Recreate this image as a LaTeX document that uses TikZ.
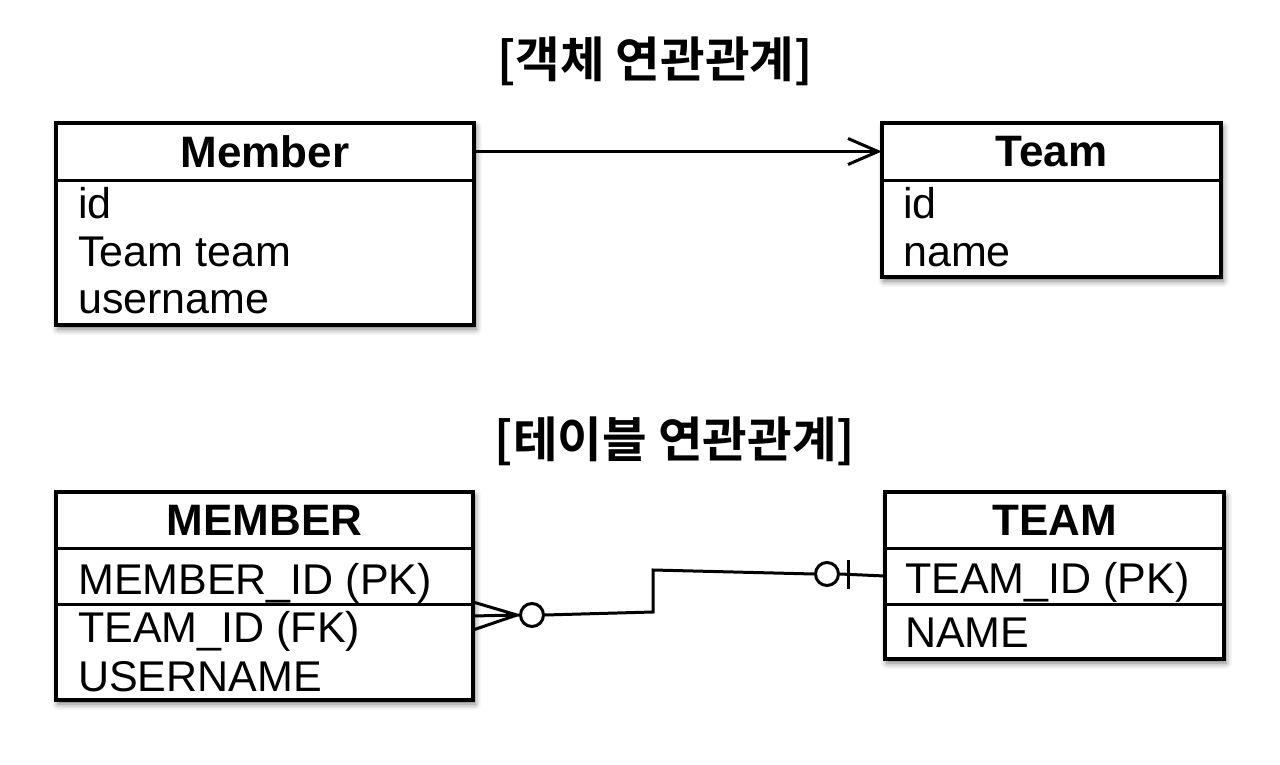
\documentclass[tikz,border=0pt]{standalone}
\usepackage{fontspec}
\setmainfont{Liberation Sans}
\newfontfamily\kr{Noto Sans CJK KR}[BoldFont={Noto Sans CJK KR Bold}]
\usetikzlibrary{arrows.meta,shadows.blur}
\begin{document}
\begin{tikzpicture}[x=1pt,y=-1pt,
  tbl/.style={draw, line width=3.2pt, fill=white, inner sep=0pt,
    blur shadow={shadow xshift=2pt, shadow yshift=-4pt, shadow blur radius=6pt, shadow opacity=55}},
  hdr/.style={inner sep=0pt, font=\bfseries\fontsize{44}{44}\selectfont},
  rowt/.style={anchor=base west, inner sep=0pt, font=\fontsize{43}{43}\selectfont},
  sep/.style={line width=3.2pt},
  conn/.style={line width=3pt},
  ring/.style={circle, draw, line width=3pt, fill=white, minimum size=23pt, inner sep=0pt},
  title/.style={inner sep=0pt, font=\kr\bfseries\fontsize{48.5}{48.5}\selectfont}]
\useasboundingbox (0,0) rectangle (1280,765);

% titles
\node[title] (t1) at (655,61) {[객체 연관관계]};
\node[title] (t2) at (675,441) {[테이블 연관관계]};

% ---- object Member
\node[tbl, minimum width=418pt, minimum height=202pt] (mbox) at (265,224) {};
\node[hdr, minimum width=418pt, minimum height=57pt] (mhead) at (265,151.5) {Member};
\draw[sep] (mhead.south west) -- (mhead.south east);
\node[rowt] (m1) at (78,218) {id};
\node[rowt] (m2) at (78,266) {Team team};
\node[rowt] (m3) at (78,313) {username};

% ---- object Team
\node[tbl, minimum width=339pt, minimum height=154pt] (tbox) at (1051.5,200) {};
\node[hdr, minimum width=339pt, minimum height=57pt] (thead) at (1051.5,151.5) {Team};
\draw[sep] (thead.south west) -- (thead.south east);
\node[rowt] (t1r) at (903,218) {id};
\node[rowt] (t2r) at (903,266) {name};

\draw[conn, -{Straight Barb[length=30pt,width=26pt,line width=3pt]}] (mhead.east) -- (thead.west);

% ---- table MEMBER
\node[tbl, minimum width=417pt, minimum height=208pt] (Mbox) at (264.5,596) {};
\node[hdr, minimum width=417pt, minimum height=56pt] (Mhead) at (264.5,520) {MEMBER};
\draw[sep] (Mhead.south west) -- (Mhead.south east);
\node[inner sep=0pt, minimum width=417pt, minimum height=56pt] (Mpk) at (264.5,576) {};
\draw[sep] (Mpk.south west) -- (Mpk.south east);
\node[rowt] (M1) at (78,594) {MEMBER\_ID (PK)};
\node[rowt] (M2) at (78,642) {TEAM\_ID (FK)};
\node[rowt] (M3) at (78,691) {USERNAME};

% ---- table TEAM
\node[tbl, minimum width=339pt, minimum height=167pt] (Tbox) at (1054.5,575.5) {};
\node[hdr, minimum width=339pt, minimum height=56pt] (Thead) at (1054.5,520) {TEAM};
\draw[sep] (Thead.south west) -- (Thead.south east);
\node[inner sep=0pt, minimum width=339pt, minimum height=56pt] (Tpk) at (1054.5,576) {};
\draw[sep] (Tpk.south west) -- (Tpk.south east);
\node[rowt] (T1) at (905,593) {TEAM\_ID (PK)};
\node[rowt] (T2) at (905,647) {NAME};

% ---- relation MEMBER >o----o| TEAM
\node[ring] (o1) at (532,615) {};
\node[ring] (o2) at (827,574) {};
\coordinate (cf) at (517,615);
\coordinate (f1) at (473,602);
\coordinate (f2) at (473,616);
\coordinate (f3) at (473,630);
\coordinate (k1) at (653,570);
\coordinate (k2) at (653,612);
\coordinate (b1) at (848,560);
\coordinate (b2) at (848,589);
\draw[conn] (f1) -- (cf) (f2) -- (cf) (f3) -- (cf) -- (o1.west);
\draw[conn] (o1.east) -- (k2) -- (k1) -- (o2.west);
\draw[conn] (o2.east) -- (Tpk.west);
\draw[conn] (b1) -- (b2);
\end{tikzpicture}
\end{document}
